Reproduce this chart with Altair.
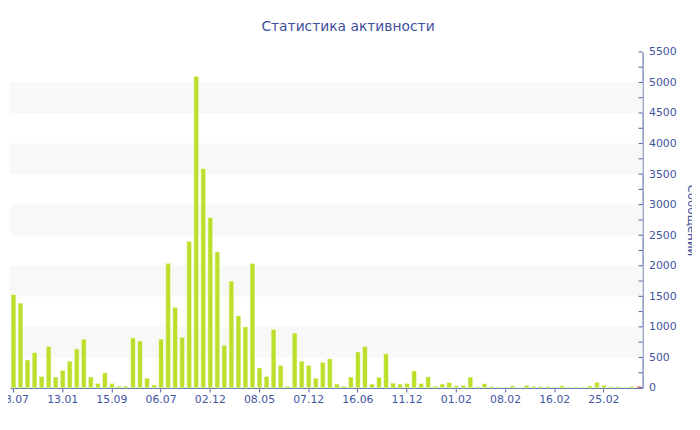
import json
import altair as alt
import pandas as pd

# ---- data ----
counts = [1530, 1390, 460, 580, 190, 680, 180, 290, 440, 640,
          800, 180, 75, 250, 75, 30, 30, 820, 770, 160,
          50, 800, 2040, 1320, 830, 2400, 5100, 3590, 2790, 2230,
          700, 1750, 1180, 1000, 2040, 330, 190, 960, 370, 30,
          900, 440, 370, 160, 420, 480, 65, 30, 180, 590,
          680, 65, 175, 560, 80, 65, 75, 280, 75, 185,
          30, 65, 90, 35, 45, 180, 18, 70, 27, 16,
          16, 37, 11, 44, 27, 27, 27, 16, 37, 16,
          16, 16, 37, 92, 44, 21, 21, 16, 27, 27]
tick_labels = ["18.07", "13.01", "15.09", "06.07", "02.12", "08.05", "07.12",
               "16.06", "11.12", "01.02", "08.02", "16.02", "25.02"]
label_every = 7
band_lo = [500, 1500, 2500, 3500, 4500]
band_hi = [1000, 2000, 3000, 4000, 5000]
y_label_values = [0, 500, 1000, 1500, 2000, 2500, 3000, 3500, 4000, 4500, 5000, 5500]
y_tick_values = [0, 250, 500, 750, 1000, 1250, 1500, 1750, 2000, 2250, 2500, 2750,
                 3000, 3250, 3500, 3750, 4000, 4250, 4500, 4750, 5000, 5250, 5500]

idx = list(range(len(counts)))
bars_df = pd.DataFrame({"idx": idx, "count": counts,
                        "current": [i == len(counts) - 1 for i in idx]})
bands_df = pd.DataFrame({"lo": band_lo, "hi": band_hi})
ticks_df = pd.DataFrame({"v": y_tick_values})

AXIS_BLUE = "#4a5da3"
TEXT_BLUE = "#3f55a0"
FONT = "DejaVu Sans"
W, H = 640, 340

y_scale = alt.Scale(domain=[0, 5500], nice=False, zero=True)
x_scale = alt.Scale(domain=idx, paddingInner=0.3, paddingOuter=0.15)

label_expr = json.dumps(tick_labels) + "[round(datum.value / %d)]" % label_every

y_axis = alt.Axis(orient="right", values=y_label_values, format="d", ticks=False, grid=False,
                  domainColor=AXIS_BLUE, labelColor=TEXT_BLUE, labelFont=FONT,
                  labelFontSize=11, labelPadding=6,
                  title="Сообщений", titleFont=FONT, titleFontSize=12,
                  titleFontWeight="normal", titleColor=TEXT_BLUE, titleAngle=90,
                  titleX=49, titleY=H / 2, titleAlign="center",
                  titleBaseline="middle")

bands = alt.Chart(bands_df).mark_rect(fill="#f8f8f8", strokeWidth=0).encode(
    x=alt.value(0), x2=alt.value(W),
    y=alt.Y("lo:Q", scale=y_scale, axis=y_axis, title="Сообщений"),
    y2="hi:Q",
)

bars = alt.Chart(bars_df).mark_bar(stroke="#ffffff", strokeWidth=1, strokeOpacity=0.55).encode(
    x=alt.X("idx:O", scale=x_scale, sort=idx,
            axis=alt.Axis(values=idx[::label_every], labelExpr=label_expr, labelAngle=0,
                          title=None, tickSize=4, tickColor=AXIS_BLUE, domainColor=AXIS_BLUE,
                          labelColor=TEXT_BLUE, labelFont=FONT, labelFontSize=11,
                          labelPadding=2, grid=False)),
    y=alt.Y("count:Q", scale=y_scale, axis=y_axis, title="Сообщений"),
    color=alt.condition("datum.current", alt.value("#e0522e"), alt.value("#bcdf2c")),
)

yticks = alt.Chart(ticks_df).mark_rule(color=AXIS_BLUE, strokeWidth=1).encode(
    x=alt.value(W - 4), x2=alt.value(W),
    y=alt.Y("v:Q", scale=y_scale, axis=y_axis, title="Сообщений"),
)

chart = alt.layer(bands, bars, yticks).properties(
    width=W, height=H,
    view=alt.ViewBackground(stroke=None, strokeWidth=0),
    title=alt.TitleParams("Статистика активности", font=FONT, fontSize=14,
                          fontWeight="normal", color="#3d4f9d", anchor="middle",
                          dx=22, offset=12),
    autosize=alt.AutoSizeParams(type="none"),
    padding={"left": 2, "top": 42, "right": 50, "bottom": 30},
).configure_view(stroke=None, strokeWidth=0).configure(background="white")

chart.save("out.html", embed_options={"renderer": "svg", "actions": False})
